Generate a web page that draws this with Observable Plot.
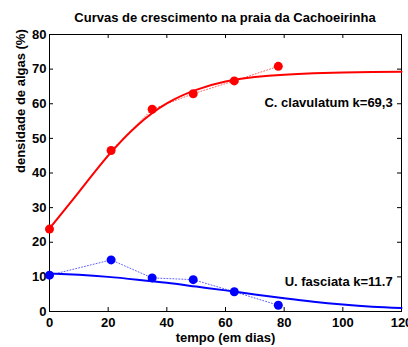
<!DOCTYPE html>
<html>
<head>
<meta charset="utf-8">
<script src="https://cdn.jsdelivr.net/npm/d3@7"></script>
<script src="https://cdn.jsdelivr.net/npm/@observablehq/plot@0.6"></script>
<style>
  html, body { margin: 0; padding: 0; background: white; }
  #title {
    box-sizing: border-box; width: 408px; height: 25px;
    padding: 10px 7px 0 49px; line-height: 14px;
    font: bold 13px "Liberation Sans", Arial, sans-serif;
    text-align: center; color: black; white-space: nowrap;
  }
  svg { display: block; }
</style>
</head>
<body>
<div id="title">Curvas de crescimento na praia da Cachoeirinha</div>
<div id="chart"></div>
<script>
// observed data (days, % algae density)
const days = [0, 21, 35, 49, 63, 78];
const clavulatum = [23.8, 46.5, 58.4, 62.9, 66.6, 70.8];
const fasciata = [10.5, 14.9, 9.7, 9.2, 5.7, 1.8];

// fitted curves
const fitDays = [0, 10, 20, 30, 40, 50, 60, 70, 80, 90, 100, 110, 120];
const clavulatumFit = [24.0, 34.5, 45.0, 53.8, 60.1, 64.0, 66.4, 67.7, 68.4, 68.8, 69.05, 69.2, 69.25];
const fasciataFit = [11.0, 10.6, 10.0, 9.2, 8.3, 7.2, 6.1, 4.9, 3.8, 2.8, 2.0, 1.4, 1.0];

// ticks and labels
const xTicks = [0, 20, 40, 60, 80, 100, 120];
const yTicks = [0, 10, 20, 30, 40, 50, 60, 70, 80];
const seriesLabels = ["C. clavulatum k=69,3", "U. fasciata k=11.7"];
const labelDay = [117, 117];
const labelValue = [60.3, 8.5];

const obsRed = days.map((d, i) => ({x: d, y: clavulatum[i]}));
const obsBlue = days.map((d, i) => ({x: d, y: fasciata[i]}));
const fitRed = fitDays.map((d, i) => ({x: d, y: clavulatumFit[i]}));
const fitBlue = fitDays.map((d, i) => ({x: d, y: fasciataFit[i]}));
const annot = seriesLabels.map((t, i) => ({x: labelDay[i], y: labelValue[i], t}));

const width = 408, height = 322;
const mL = 49, mR = 7, mT = 9, mB = 36;
const W = width - mL - mR, H = height - mT - mB;
const tk = 4;

const chart = Plot.plot({
  width, height,
  marginLeft: mL, marginRight: mR, marginTop: mT, marginBottom: mB,
  style: {fontFamily: "'Liberation Sans', Arial, sans-serif", fontSize: "13px", fontWeight: "bold", color: "black", background: "white"},
  x: {domain: [0, 120]},
  y: {domain: [0, 80]},
  marks: [
    Plot.frame({stroke: "black", strokeWidth: 1}),
    Plot.tickX(xTicks, {x: d => d, insetTop: H - tk, stroke: "black"}),
    Plot.tickX(xTicks, {x: d => d, insetBottom: H - tk, stroke: "black"}),
    Plot.tickY(yTicks, {y: d => d, insetRight: W - tk, stroke: "black"}),
    Plot.tickY(yTicks, {y: d => d, insetLeft: W - tk, stroke: "black"}),
    Plot.axisX({ticks: xTicks, tickSize: 0, tickPadding: 6, label: null, fontWeight: "bold", fontSize: 13}),
    Plot.axisY({ticks: yTicks, tickSize: 0, tickPadding: 3, label: null, fontWeight: "bold", fontSize: 13}),
    Plot.line(obsRed, {x: "x", y: "y", stroke: "#ff6060", strokeWidth: 1, strokeDasharray: "1,2"}),
    Plot.line(obsBlue, {x: "x", y: "y", stroke: "#6060ff", strokeWidth: 1, strokeDasharray: "1,2"}),
    Plot.line(fitRed, {x: "x", y: "y", stroke: "red", strokeWidth: 2, curve: "natural"}),
    Plot.line(fitBlue, {x: "x", y: "y", stroke: "blue", strokeWidth: 2, curve: "natural"}),
    Plot.dot(obsRed, {x: "x", y: "y", r: 4.5, fill: "red", stroke: "none"}),
    Plot.dot(obsBlue, {x: "x", y: "y", r: 4.5, fill: "blue", stroke: "none"}),
    Plot.text(annot, {x: "x", y: "y", text: "t", textAnchor: "end", fill: "black", fontWeight: "bold", fontSize: 13}),
    Plot.text(["tempo (em dias)"], {frameAnchor: "bottom", dy: 30, fontWeight: "bold", fontSize: 13}),
    Plot.text(["densidade de algas (%)"], {frameAnchor: "left", rotate: -90, dx: -29, fontWeight: "bold", fontSize: 13})
  ]
});
document.getElementById("chart").appendChild(chart);
</script>
</body>
</html>
